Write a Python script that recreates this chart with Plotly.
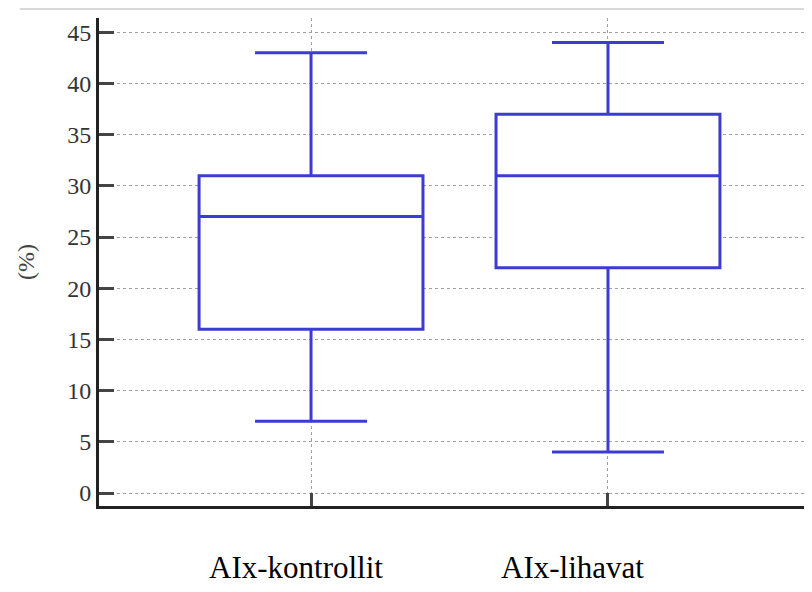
import plotly.graph_objects as go

categories = ["AIx-kontrollit", "AIx-lihavat"]
lower_whisker = [7, 4]
q1_values = [16, 22]
median_values = [27, 31]
q3_values = [31, 37]
upper_whisker = [43, 44]
y_tick_values = [0, 5, 10, 15, 20, 25, 30, 35, 40, 45]
y_label = "(%)"

box_color = "#3c3cd2"

fig = go.Figure()
fig.add_trace(go.Box(
    x=categories,
    q1=q1_values,
    median=median_values,
    q3=q3_values,
    lowerfence=lower_whisker,
    upperfence=upper_whisker,
    boxpoints=False,
    line=dict(color=box_color, width=3),
    fillcolor="white",
    width=0.754,
    whiskerwidth=0.5,
    showlegend=False,
    hoverinfo="skip",
))

serif = "Liberation Serif"
fig.update_layout(
    width=804, height=584,
    margin=dict(l=91, r=0, t=10, b=86),
    paper_bgcolor="white",
    plot_bgcolor="white",
    showlegend=False,
    xaxis=dict(
        type="category",
        range=[-0.714, 1.687],
        showgrid=True, gridcolor="#a0a0a0", griddash="dot", gridwidth=1,
        showline=True, linecolor="#222", linewidth=3,
        ticks="inside", ticklen=13, tickwidth=3, tickcolor="#444",
        showticklabels=False,
        zeroline=False,
    ),
    yaxis=dict(
        range=[-1.27, 46.4],
        tickvals=y_tick_values,
        showgrid=True, gridcolor="#a0a0a0", griddash="dot", gridwidth=1,
        showline=True, linecolor="#222", linewidth=3,
        ticks="inside", ticklen=15, tickwidth=3, tickcolor="#444",
        tickfont=dict(family=serif, size=24, color="#333"),
        zeroline=False,
    ),
    shapes=[dict(type="line", xref="paper", yref="paper",
                 x0=-0.111, x1=1.0, y0=1.0185, y1=1.0185,
                 line=dict(color="#cccccc", width=1.5))],
)

label_shifts = [-15, -35]
for cat, shift in zip(categories, label_shifts):
    fig.add_annotation(x=cat, xref="x", y=-0.126, yref="paper",
                       text=cat, showarrow=False, xshift=shift,
                       yanchor="middle", xanchor="center",
                       font=dict(family=serif, size=31, color="black"))

fig.add_annotation(x=-0.1024, xref="paper", y=0.5, yref="paper",
                   text=y_label, textangle=-90, showarrow=False,
                   xanchor="center", yanchor="middle",
                   font=dict(family=serif, size=24, color="#444"))

fig.write_html("out.html")
